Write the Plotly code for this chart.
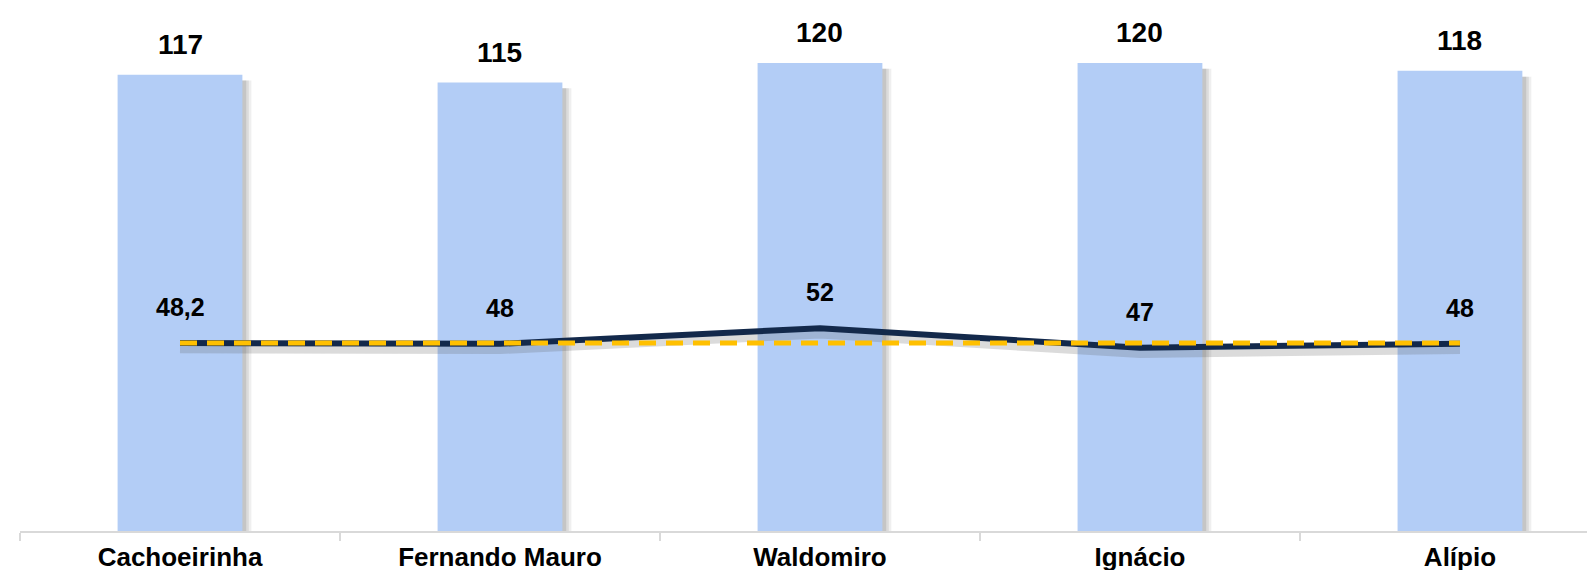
import plotly.graph_objects as go

categories = ["Cachoeirinha", "Fernando Mauro", "Waldomiro", "Ignácio", "Alípio"]
bar_values = [117, 115, 120, 120, 118]
line_values = [48.2, 48, 52, 47, 48]
line_labels = ["48,2", "48", "52", "47", "48"]
reference_values = [48.2, 48.2, 48.2, 48.2, 48.2]

FONT = "Arial, 'Liberation Sans', sans-serif"
BAR_COLOR = "#B3CDF6"
LINE_COLOR = "#13294B"
DASH_COLOR = "#FFC000"

fig = go.Figure()

# soft shadows behind bars (drawn from the same values)
for off, alpha in [(0.028, 0.10), (0.020, 0.14), (0.012, 0.18)]:
    fig.add_trace(go.Bar(
        x=categories, y=[v - 1.5 for v in bar_values],
        width=0.39, offset=-0.195 + off,
        marker=dict(color=f"rgba(100,100,100,{alpha})", line=dict(width=0)),
        hoverinfo="skip", showlegend=False,
    ))
fig.add_trace(go.Bar(
    x=categories, y=bar_values,
    width=0.39, offset=-0.195,
    marker=dict(color=BAR_COLOR, line=dict(width=0)),
    showlegend=False,
))

# shadow under the line
fig.add_trace(go.Scatter(
    x=categories, y=[v - 1.6 for v in line_values], mode="lines",
    line=dict(color="rgba(90,90,90,0.22)", width=8),
    hoverinfo="skip", showlegend=False,
))
fig.add_trace(go.Scatter(
    x=categories, y=line_values, mode="lines",
    line=dict(color=LINE_COLOR, width=6),
    showlegend=False,
))
fig.add_trace(go.Scatter(
    x=categories, y=reference_values, mode="lines",
    line=dict(color=DASH_COLOR, width=5, dash="17px,10px"),
    showlegend=False,
))

annotations = []
for c, v in zip(categories, bar_values):
    annotations.append(dict(
        x=c, y=v, text=f"<b>{v}</b>", showarrow=False, yanchor="middle",
        yshift=30, font=dict(family=FONT, size=28, color="#000000"),
    ))
for c, v, t in zip(categories, line_values, line_labels):
    annotations.append(dict(
        x=c, y=v, text=f"<b>{t}</b>", showarrow=False, yanchor="middle",
        yshift=36, font=dict(family=FONT, size=25, color="#000000"),
    ))

fig.update_layout(
    width=1595, height=570,
    margin=dict(l=12, r=0, t=0, b=47),
    paper_bgcolor="white", plot_bgcolor="white",
    barmode="overlay",
    annotations=annotations,
    xaxis=dict(
        type="category", range=[-0.5, 4.447],
        showline=True, linecolor="#D9D9D9", linewidth=2,
        ticks="outside", tickson="boundaries", ticklen=8,
        tickcolor="#D9D9D9", tickwidth=2,
        ticklabelstandoff=2,
        tickfont=dict(family=FONT, size=26, color="#000000"),
        showgrid=False,
    ),
    yaxis=dict(
        range=[0, 134.1], visible=False, showgrid=False, zeroline=False,
    ),
)
fig.update_xaxes(ticktext=[f"<b>{c}</b>" for c in categories], tickvals=categories)

fig.write_html("out.html")
